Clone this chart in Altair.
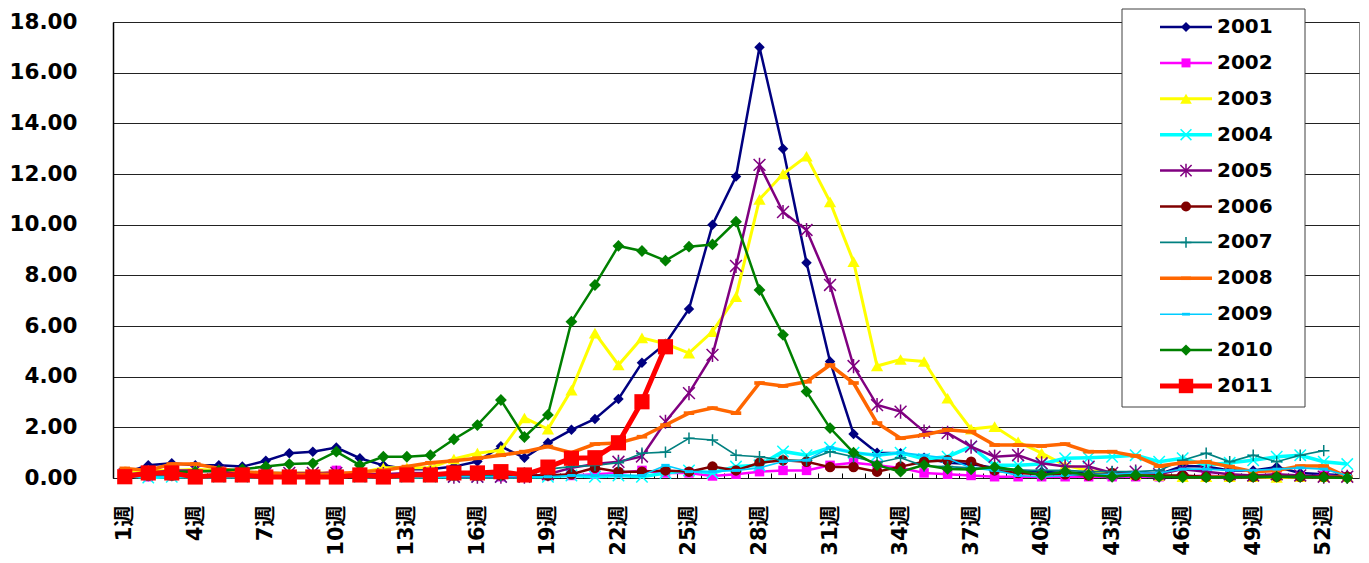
import altair as alt
import pandas as pd

WEEKS = list(range(1, 54))
YEARS = ["2001", "2002", "2003", "2004", "2005", "2006", "2007", "2008", "2009", "2010", "2011"]
Y_TICKS = [0, 2, 4, 6, 8, 10, 12, 14, 16, 18]

V2001 = [0.2, 0.5, 0.58, 0.5, 0.5, 0.45, 0.68, 0.98, 1.04, 1.2, 0.78, 0.5, 0.35, 0.35, 0.45, 0.65,
         1.25, 0.8, 1.39, 1.9, 2.33, 3.12, 4.55, 5.3, 6.67, 10.0, 11.9, 17.0, 13.0, 8.5, 4.6, 1.74,
         1.0, 0.98, 0.8, 0.6, 0.55, 0.4, 0.3, 0.25, 0.2, 0.2, 0.2, 0.15, 0.15, 0.47, 0.45, 0.3, 0.3,
         0.43, 0.2, 0.15, 0.1]
V2002 = [0.1, 0.05, 0.1, 0.1, 0.1, 0.1, 0.15, 0.1, 0.1, 0.3, 0.1, 0.1, 0.1, 0.1, 0.15, 0.1, 0.05,
         0.1, 0.1, 0.1, 0.15, 0.2, 0.3, 0.2, 0.2, 0.08, 0.15, 0.25, 0.3, 0.3, 0.5, 0.6, 0.5, 0.4,
         0.2, 0.15, 0.1, 0.05, 0.05, 0.05, 0.05, 0.05, 0.05, 0.05, 0.05, 0.05, 0.1, 0.05, 0.05,
         0.05, 0.05, 0.1, 0.05]
V2003 = [0.25, 0.3, 0.3, 0.35, 0.3, 0.2, 0.2, 0.2, 0.2, 0.2, 0.2, 0.4, 0.4, 0.4, 0.75, 0.98,
         1.1, 2.37, 1.93, 3.47, 5.72, 4.46, 5.53, 5.3, 4.93, 5.78, 7.16, 11.0, 12.0, 12.7, 10.9,
         8.54, 4.42, 4.68, 4.6, 3.15, 1.93, 2.03, 1.43, 0.98, 0.5, 0.3, 0.2, 0.15, 0.1, 0.05,
         0.05, 0.05, 0.05, 0.02, 0.05, 0.05, 0.05]
V2004 = [0.1, 0.02, 0.05, 0.05, 0.05, 0.05, 0.05, 0.05, 0.05, 0.1, 0.05, 0.05, 0.05, 0.05, 0.05,
         0.05, 0.05, 0.05, 0.05, 0.1, 0.05, 0.1, 0.05, 0.2, 0.3, 0.2, 0.45, 0.5, 1.05, 0.9, 1.2,
         1.0, 0.9, 1.0, 0.75, 0.84, 1.24, 0.5, 0.5, 0.55, 0.78, 0.8, 0.84, 0.9, 0.64, 0.78, 0.5,
         0.6, 0.7, 0.84, 0.9, 0.64, 0.55]
V2005 = [0.15, 0.2, 0.3, 0.3, 0.25, 0.2, 0.2, 0.2, 0.2, 0.2, 0.15, 0.15, 0.2, 0.2, 0.05, 0.05,
         0.05, 0.05, 0.15, 0.4, 0.55, 0.64, 0.85, 2.22, 3.35, 4.86, 8.37, 12.36, 10.5, 9.79, 7.62,
         4.42, 2.88, 2.62, 1.83, 1.78, 1.24, 0.84, 0.9, 0.58, 0.45, 0.45, 0.2, 0.25, 0.15, 0.35,
         0.25, 0.15, 0.1, 0.15, 0.1, 0.05, 0.05]
V2006 = [0.1, 0.1, 0.1, 0.1, 0.1, 0.1, 0.1, 0.1, 0.1, 0.1, 0.1, 0.1, 0.1, 0.1, 0.1, 0.1, 0.1,
         0.1, 0.1, 0.15, 0.4, 0.25, 0.25, 0.3, 0.25, 0.45, 0.3, 0.6, 0.7, 0.64, 0.43, 0.43, 0.25,
         0.45, 0.64, 0.7, 0.64, 0.3, 0.2, 0.15, 0.15, 0.1, 0.2, 0.1, 0.1, 0.1, 0.05, 0.05, 0.05,
         0.05, 0.05, 0.05, 0.05]
V2007 = [0.1, 0.1, 0.1, 0.1, 0.1, 0.1, 0.1, 0.1, 0.1, 0.1, 0.1, 0.1, 0.1, 0.1, 0.1, 0.1, 0.1,
         0.2, 0.35, 0.45, 0.5, 0.6, 0.98, 1.02, 1.57, 1.5, 0.9, 0.84, 0.7, 0.7, 1.04, 0.84, 0.6,
         0.8, 0.47, 0.45, 0.4, 0.35, 0.3, 0.3, 0.3, 0.25, 0.25, 0.25, 0.3, 0.7, 0.98, 0.64, 0.9,
         0.64, 0.9, 1.08]
V2008 = [0.38, 0.3, 0.55, 0.55, 0.38, 0.25, 0.2, 0.15, 0.15, 0.15, 0.25, 0.3, 0.45, 0.6, 0.68,
         0.78, 0.9, 1.04, 1.24, 1.0, 1.34, 1.38, 1.63, 2.09, 2.56, 2.76, 2.56, 3.75, 3.63, 3.8,
         4.46, 3.75, 2.17, 1.57, 1.7, 1.9, 1.83, 1.3, 1.3, 1.26, 1.34, 1.04, 1.04, 0.87, 0.47,
         0.6, 0.64, 0.45, 0.25, 0.3, 0.47, 0.47, 0.05]
V2009 = [0.05, 0.05, 0.05, 0.05, 0.05, 0.05, 0.05, 0.05, 0.05, 0.05, 0.05, 0.05, 0.05, 0.05,
         0.05, 0.05, 0.05, 0.05, 0.05, 0.1, 0.1, 0.1, 0.1, 0.5, 0.25, 0.25, 0.3, 0.4, 0.65, 0.7,
         1.2, 1.0, 0.9, 1.0, 0.9, 0.78, 0.4, 0.3, 0.1, 0.05, 0.1, 0.15, 0.15, 0.2, 0.2, 0.35,
         0.35, 0.3, 0.3, 0.35, 0.4, 0.35, 0.1]
V2010 = [0.1, 0.2, 0.25, 0.25, 0.3, 0.35, 0.45, 0.55, 0.58, 1.04, 0.51, 0.84, 0.84, 0.9, 1.53,
         2.09, 3.08, 1.62, 2.49, 6.17, 7.62, 9.16, 8.96, 8.58, 9.13, 9.22, 10.12, 7.42, 5.65,
         3.41, 1.97, 1.0, 0.51, 0.25, 0.51, 0.36, 0.34, 0.43, 0.3, 0.12, 0.25, 0.12, 0.05, 0.12,
         0.05, 0.03, 0.03, 0.03, 0.05, 0.05, 0.05, 0.03, 0.0]
V2011 = [0.05, 0.2, 0.2, 0.04, 0.12, 0.12, 0.04, 0.04, 0.04, 0.04, 0.12, 0.04, 0.12, 0.12, 0.2,
         0.2, 0.25, 0.12, 0.43, 0.78, 0.8, 1.39, 3.01, 5.18]

SERIES = [V2001, V2002, V2003, V2004, V2005, V2006, V2007, V2008, V2009, V2010, V2011]

# styles
COLORS = ["#000080", "#FF00FF", "#FFFF00", "#00FFFF", "#800080", "#800000",
          "#008080", "#FF6600", "#00CCFF", "#008000", "#FF0000"]
X_PATH = "M-1,-1L1,1M-1,1L1,-1"
AST_PATH = "M-1,-1L1,1M-1,1L1,-1M0,-1.2L0,1.2"
PLUS_PATH = "M-1,0L1,0M0,-1L0,1"
DASH_PATH = "M-1,-0.35L1,-0.35L1,0.35L-1,0.35Z"
SHAPES = ["diamond", "square", "triangle-up", X_PATH, AST_PATH, "circle",
          PLUS_PATH, DASH_PATH, DASH_PATH, "diamond", "square"]
FILLED = [True, True, True, False, False, True, False, True, True, True, True]
SIZES = [110, 90, 150, 130, 140, 110, 130, 110, 70, 140, 230]
WIDTHS = [2.5, 2.5, 3, 3.5, 2.5, 2.5, 1.6, 3.5, 1.6, 2.5, 5]

FONT = "DejaVu Sans, Noto Sans CJK JP"

rows = []
for yr, vals in zip(YEARS, SERIES):
    for wk, v in zip(WEEKS, vals):
        rows.append({"year": yr, "week": wk, "value": v})
df = pd.DataFrame(rows)

W, H = 1246, 456
half_step = W / len(WEEKS) / 2

xscale = alt.Scale(domain=[0.5, 53.5], nice=False, zero=False)
yscale = alt.Scale(domain=[0, 18], nice=False)
xaxis = alt.Axis(values=WEEKS,
                 labelExpr="(datum.value - 1) % 3 == 0 ? datum.value + '週' : ''",
                 labelAngle=270, labelAlign="right", labelBaseline="middle",
                 labelFontSize=21, labelFont=FONT, labelFontWeight="bold",
                 labelColor="black", labelPadding=27, labelFlush=False,
                 labelOverlap=False, tickSize=5, tickOffset=-half_step,
                 labelOffset=half_step, offset=-5, domain=False, grid=False,
                 title=None, tickColor="black", tickWidth=1)
yaxis = alt.Axis(values=Y_TICKS, format=".2f", labelFontSize=21.5, labelFont=FONT,
                 labelFontWeight="bold", labelColor="black", labelPadding=36,
                 ticks=False, domain=True, domainColor="black", domainWidth=1.5,
                 grid=True, gridColor="#222", gridWidth=1, title=None,
                 labelOverlap=False)

series_layers = []
for i, yr in enumerate(YEARS):
    base = alt.Chart(df[df.year == yr]).encode(
        x=alt.X("week:Q", scale=xscale, axis=xaxis),
        y=alt.Y("value:Q", scale=yscale, axis=yaxis),
    )
    series_layers.append(base.mark_line(color=COLORS[i], strokeWidth=WIDTHS[i]))
    series_layers.append(base.mark_point(shape=SHAPES[i], size=SIZES[i],
                                         filled=FILLED[i], color=COLORS[i],
                                         opacity=1, strokeWidth=1.5))
series = alt.layer(*series_layers)

# manual legend
leg_df = pd.DataFrame({"year": YEARS, "li": list(range(len(YEARS)))})
lscale = alt.Scale(domain=[0, len(YEARS) - 1], range=[5, 364])
box = alt.Chart(pd.DataFrame({"k": [0]})).mark_rect(
    fill="white", stroke="#404040", strokeWidth=1).encode(
    x=alt.value(1009), x2=alt.value(1192), y=alt.value(-13), y2=alt.value(385))
legend_layers = [box]
for i, yr in enumerate(YEARS):
    lb = alt.Chart(leg_df[leg_df.year == yr]).encode(
        y=alt.Y("li:Q", scale=lscale, axis=None))
    legend_layers.append(lb.mark_rule(color=COLORS[i], strokeWidth=WIDTHS[i]).encode(
        x=alt.value(1047), x2=alt.value(1099)))
    legend_layers.append(lb.mark_point(shape=SHAPES[i], size=SIZES[i] * 0.9,
                                       filled=FILLED[i], color=COLORS[i], opacity=1,
                                       strokeWidth=1.5).encode(x=alt.value(1073)))
    legend_layers.append(lb.mark_text(align="left", baseline="middle", fontSize=20,
                                      fontWeight="bold", font=FONT, color="black",
                                      dx=0).encode(x=alt.value(1104), text="year:N"))
legend = alt.layer(*legend_layers)

chart = alt.layer(series, legend).resolve_scale(y="independent").properties(
    width=W, height=H,
    autosize=alt.AutoSizeParams(type="none"),
    padding={"left": 105, "top": 14, "right": 2, "bottom": 85},
    background="white",
).configure_view(stroke="#888888", strokeWidth=1)

chart.save("out.html", embed_options={"renderer": "svg", "actions": False})
